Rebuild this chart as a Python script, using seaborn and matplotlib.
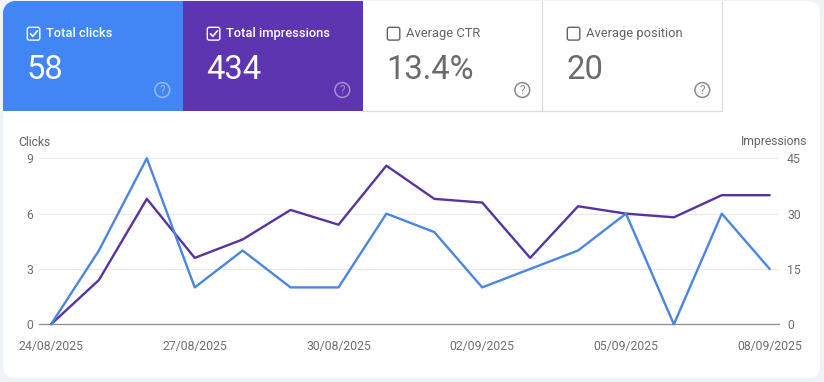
import matplotlib
matplotlib.use("Agg")
import matplotlib.pyplot as plt
import matplotlib.dates as mdates
from matplotlib.patches import FancyBboxPatch, Rectangle, Circle
import pandas as pd
import seaborn as sns

# data
dates = pd.date_range("2025-08-24", "2025-09-08")
clicks = [0, 4, 9, 2, 4, 2, 2, 6, 5, 2, 3, 4, 6, 0, 6, 3]
impressions = [0, 12, 34, 18, 23, 31, 27, 43, 34, 33, 18, 32, 30, 29, 35, 35]
clicks_ticks = [0, 3, 6, 9]
impressions_ticks = [0, 15, 30, 45]
date_ticks = ["2025-08-24", "2025-08-27", "2025-08-30", "2025-09-02", "2025-09-05", "2025-09-08"]

card_labels = ["Total clicks", "Total impressions", "Average CTR", "Average position"]
card_values = ["58", "434", "13.4%", "20"]
card_colors = ["#4285F4", "#5E35B1", "#FFFFFF", "#FFFFFF"]
card_checked = [True, True, False, False]

BLUE = "#4A86E0"
PURPLE = "#5733A0"
GREY = "#6F6F6F"
BORDER = "#DADCE0"
W, H = 824, 382

sns.set_theme(style="white")
plt.rcParams["font.family"] = ["Roboto", "DejaVu Sans"]

fig = plt.figure(figsize=(W / 100, H / 100), dpi=100, facecolor="#EFF3F8")

# background layer in pixel coordinates
bg = fig.add_axes([0, 0, 1, 1], zorder=0)
bg.set_xlim(0, W)
bg.set_ylim(H, 0)
bg.axis("off")

panel = FancyBboxPatch((3 + 12, 1 + 12), 817 - 24, 377 - 24, boxstyle="round,pad=12,rounding_size=12",
                       fc="white", ec="none")
bg.add_patch(panel)

# scorecards
for i in range(4):
    x0 = 3 + 180 * i
    on = card_checked[i]
    if i == 0:
        # first card follows the rounded corner of the panel
        bg.add_patch(Circle((x0 + 12, 13), 12, fc=card_colors[i], ec="none", zorder=1))
        bg.add_patch(Rectangle((x0 + 12, 1), 168, 110, fc=card_colors[i], ec="none", zorder=1))
        bg.add_patch(Rectangle((x0, 13), 12, 98, fc=card_colors[i], ec="none", zorder=1))
    else:
        bg.add_patch(Rectangle((x0, 1), 180, 110, fc=card_colors[i], ec="none", zorder=1))
    if not on:
        bg.plot([x0, x0 + 179.5, x0 + 179.5], [110.5, 110.5, 1], color=BORDER, lw=0.9, zorder=2)
    fg = "white" if on else "#5F6368"
    bg.text(x0 + 43, 33.5, card_labels[i], color=fg, fontsize=9.3, fontweight="medium" if on else "normal",
            va="center", zorder=3)
    bg.text(x0 + 23.4, 70, card_values[i], color="white" if on else "#6B6B6B", fontsize=23.6, va="center", zorder=3)
    # checkbox
    box = FancyBboxPatch((x0 + 25.3, 28.3), 10.5, 10.8, boxstyle="round,pad=1,rounding_size=2", fc="none",
                         ec=fg, lw=1.0, zorder=3)
    bg.add_patch(box)
    if on:
        bg.plot([x0 + 27.5, x0 + 29.8, x0 + 34.5], [33.8, 36.3, 30.8], color="white", lw=1.2, zorder=4)
    # help icon
    hc = "white" if on else "#8A8A8A"
    ha = 0.45 if on else 1
    bg.add_patch(Circle((x0 + 159.3, 90), 7.4, fc="none", ec=hc, alpha=ha, lw=1.1, zorder=3))
    bg.text(x0 + 159.3, 90.3, "?", color=hc, alpha=ha, fontsize=8.5, ha="center", va="center", zorder=3)

# chart
df = pd.DataFrame({"date": dates, "clicks": clicks, "impressions": impressions})

ax = fig.add_axes([39 / W, 1 - 324.3 / H, 740 / W, 166 / H], zorder=3)
ax2 = ax.twinx()
ax.set_zorder(3)
ax2.set_zorder(2)
ax.patch.set_visible(False)
ax2.patch.set_visible(False)

sns.lineplot(data=df, x="date", y="impressions", ax=ax2, color=PURPLE, linewidth=1.7, clip_on=False)
sns.lineplot(data=df, x="date", y="clicks", ax=ax, color=BLUE, linewidth=1.7, clip_on=False)

step = (769.7 - 51) / 15
ax.set_xlim(dates[0] - pd.Timedelta(days=12 / step), dates[-1] + pd.Timedelta(days=9.3 / step))
ax.set_ylim(0, 9)
ax2.set_ylim(0, 45)
ax.set_yticks(clicks_ticks)
ax2.set_yticks(impressions_ticks)
ax.set_xticks(pd.to_datetime(date_ticks))
ax.xaxis.set_major_formatter(mdates.DateFormatter("%d/%m/%Y"))
ax.set_xlabel("")
ax.set_ylabel("")
ax2.set_ylabel("")

# grid sits on the lower axes so it stays under both lines
ax2.grid(axis="y", color="#E8EAED", lw=0.8)
ax2.set_axisbelow(True)
for a in (ax, ax2):
    for s in a.spines.values():
        s.set_visible(False)
ax2.spines["bottom"].set_visible(True)
ax2.spines["bottom"].set_color("#8C8C8C")
ax2.spines["bottom"].set_linewidth(0.9)
ax.tick_params(axis="x", length=0, pad=11.5, labelsize=8.8, labelcolor=GREY)
ax.tick_params(axis="y", length=0, pad=4.3, labelsize=8.8, labelcolor=GREY)
ax2.tick_params(axis="y", length=0, pad=5.8, labelsize=8.8, labelcolor=GREY)

bg.text(18.5, 142, "Clicks", color="#5F6368", fontsize=8.7, va="center")
bg.text(807.5, 142, "Impressions", color="#5F6368", fontsize=8.7, va="center", ha="right")

fig.savefig("out.png", dpi=100, facecolor=fig.get_facecolor())
